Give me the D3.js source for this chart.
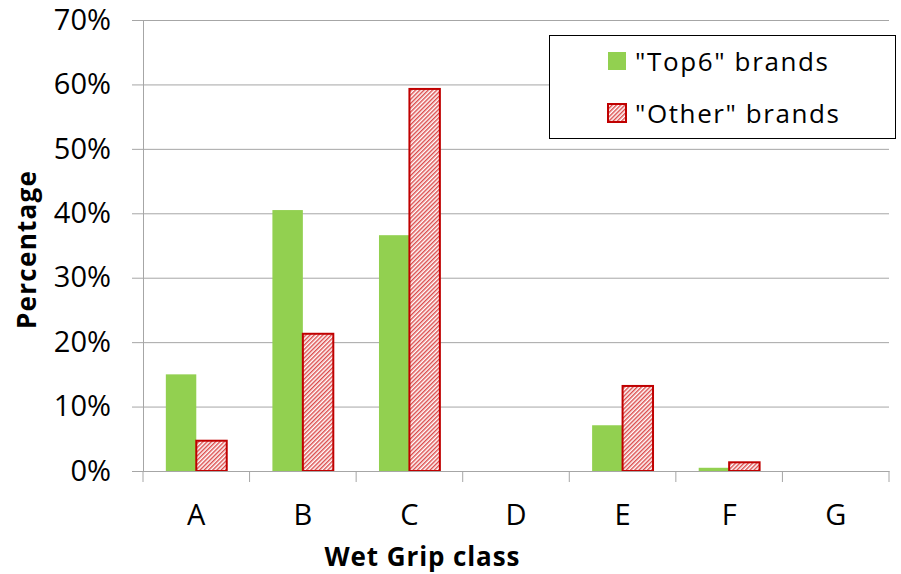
<!DOCTYPE html>
<html>
<head>
<meta charset="utf-8">
<script src="https://cdn.jsdelivr.net/npm/d3@7"></script>
<style>
  body { margin: 0; background: #fff; }
  text { font-family: "Open Sans", Lato, sans-serif; fill: #000; }
</style>
</head>
<body>
<svg id="chart" width="901" height="574"></svg>
<script>
const categories = ["A", "B", "C", "D", "E", "F", "G"];
const seriesNames = ['"Top6" brands', '"Other" brands'];
const top6 = [15.0, 40.5, 36.6, 0, 7.1, 0.5, 0];
const other = [4.7, 21.3, 59.3, 0, 13.2, 1.35, 0];
const yTicks = [0, 10, 20, 30, 40, 50, 60, 70];

const svg = d3.select("#chart");
const plotLeft = 143, plotRight = 889, plotTop = 20, plotBottom = 471;

const x = d3.scaleBand().domain(categories).range([plotLeft, plotRight]);
const x1 = d3.scaleBand().domain(seriesNames).range([0, x.bandwidth()])
    .paddingOuter(0.75).paddingInner(0);
const y = d3.scaleLinear().domain([0, 70]).range([plotBottom, plotTop]);

// hatch pattern for "Other"
const defs = svg.append("defs");
const pat = defs.append("pattern")
    .attr("id", "hatch")
    .attr("patternUnits", "userSpaceOnUse")
    .attr("width", 3).attr("height", 3)
    .attr("patternTransform", "rotate(45)");
pat.append("rect").attr("width", 3).attr("height", 3).attr("fill", "#fff");
pat.append("line").attr("x1", 0.75).attr("y1", 0).attr("x2", 0.75).attr("y2", 3)
    .attr("stroke", "#d83838").attr("stroke-width", 1.3);

// gridlines
const grid = d3.axisLeft(y).tickValues(yTicks).tickFormat(() => null)
    .tickSizeInner(-(plotRight - plotLeft)).tickSizeOuter(0);
svg.append("g").attr("transform", `translate(${plotLeft},0)`).call(grid)
    .call(g => g.select(".domain").remove())
    .call(g => g.selectAll("line").attr("stroke", "#a6a6a6"));

// y axis
const yAxis = d3.axisLeft(y).tickValues(yTicks).tickFormat(d => d + "%")
    .tickSizeInner(11).tickSizeOuter(0).tickPadding(21);
svg.append("g").attr("transform", `translate(${plotLeft},0)`).call(yAxis)
    .call(g => g.select(".domain").attr("stroke", "#a6a6a6"))
    .call(g => g.selectAll("line").attr("stroke", "#a6a6a6"))
    .call(g => g.selectAll("text").attr("font-size", 29).attr("font-family", "Open Sans").attr("fill", "#000"));

// bars
const groups = svg.append("g").selectAll("g").data(categories).join("g")
    .attr("transform", d => `translate(${x(d)},0)`);

groups.append("rect")
    .attr("x", x1(seriesNames[0]))
    .attr("y", (d, i) => y(top6[i]))
    .attr("width", x1.bandwidth())
    .attr("height", (d, i) => plotBottom - y(top6[i]))
    .attr("fill", "#92d050");

groups.filter((d, i) => other[i] > 0).append("rect")
    .attr("x", x1(seriesNames[1]))
    .attr("y", d => y(other[categories.indexOf(d)]))
    .attr("width", x1.bandwidth())
    .attr("height", d => plotBottom - y(other[categories.indexOf(d)]))
    .attr("fill", "url(#hatch)")
    .attr("stroke", "#c00000").attr("stroke-width", 2);

// x axis
const xAxis = d3.axisBottom(x).tickSize(0);
const xg = svg.append("g").attr("transform", `translate(0,${plotBottom})`).call(xAxis);
xg.select(".domain").attr("stroke", "#a6a6a6");
xg.selectAll("text")
    .attr("y", 54).attr("dy", null)
    .attr("font-size", 29).attr("font-family", "Open Sans").attr("fill", "#000");
xg.selectAll(".sep").data(x.domain().map(d => x(d)).concat([plotRight])).join("line")
    .attr("class", "sep")
    .attr("x1", d => d).attr("x2", d => d)
    .attr("y1", 0).attr("y2", 11)
    .attr("stroke", "#a6a6a6");

// axis titles
svg.append("text")
    .attr("transform", "translate(36,250) rotate(-90)")
    .attr("text-anchor", "middle")
    .attr("font-size", 26).attr("font-weight", "bold")
    .attr("textLength", 158).attr("lengthAdjust", "spacing")
    .text("Percentage");
svg.append("text")
    .attr("x", 422).attr("y", 566)
    .attr("text-anchor", "middle")
    .attr("font-size", 26).attr("font-weight", "bold")
    .attr("textLength", 195).attr("lengthAdjust", "spacing")
    .text("Wet Grip class");

// legend
const legendWidths = [193, 204];
const lg = svg.append("g");
lg.append("rect").attr("x", 549.5).attr("y", 35.5).attr("width", 346).attr("height", 103)
    .attr("fill", "#fff").attr("stroke", "#000").attr("stroke-width", 1);
const legendItems = lg.selectAll("g.item").data(seriesNames).join("g")
    .attr("class", "item")
    .attr("transform", (d, i) => `translate(608,${52 + i * 52})`);
legendItems.append("rect")
    .attr("width", 18).attr("height", 18)
    .attr("fill", (d, i) => i === 0 ? "#92d050" : "url(#hatch)")
    .attr("stroke", (d, i) => i === 0 ? "none" : "#c00000")
    .attr("stroke-width", 2);
legendItems.append("text")
    .attr("x", 27).attr("y", 19)
    .attr("font-size", 26)
    .attr("textLength", (d, i) => legendWidths[i]).attr("lengthAdjust", "spacing")
    .text(d => d);
</script>
</body>
</html>
